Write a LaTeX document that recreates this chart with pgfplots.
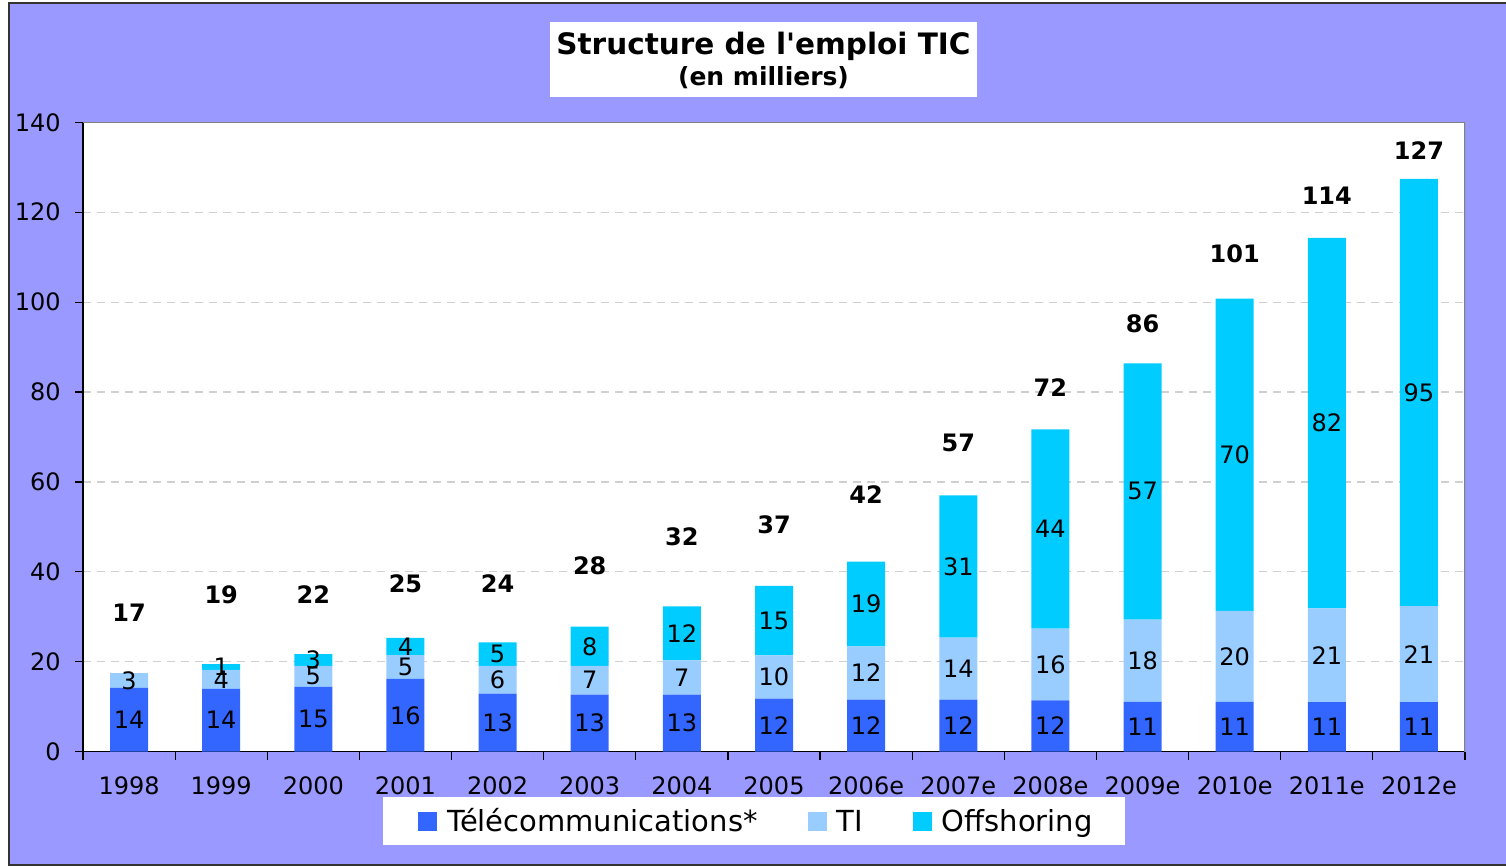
\documentclass[border=0pt]{standalone}
\usepackage{fontspec}
\setmainfont{DejaVu Sans}
\usepackage{pgfplots}
\usepackage{pgfplotstable}
\pgfplotsset{compat=1.18}
\definecolor{bgc}{HTML}{9999FF}
\definecolor{ctel}{HTML}{3366FF}
\definecolor{cti}{HTML}{99CCFF}
\definecolor{coff}{HTML}{00CCFF}
\definecolor{gridc}{HTML}{D0D0D0}
\definecolor{framec}{HTML}{808080}

\pgfplotstableread{
x  tel  ti   off  ltel lti loff tot ty
0  14.2 3.3  0.0  14   3   {}   17  30.8
1  14.0 4.2  1.3  14   4   1    19  34.9
2  14.4 4.7  2.6  15   5   3    22  34.9
3  16.2 5.3  3.8  16   5   4    25  37.3
4  12.9 6.2  5.2  13   6   5    24  37.3
5  12.7 6.4  8.7  13   7   8    28  41.3
6  12.7 7.6  12.0 13   7   12   32  47.8
7  11.8 9.6  15.5 12   10  15   37  50.4
8  11.6 11.8 18.9 12   12  19   42  57.1
9  11.6 13.8 31.6 12   14  31   57  68.7
10 11.4 16.0 44.3 12   16  44   72  81.0
11 11.1 18.3 57.0 11   18  57   86  95.2
12 11.1 20.2 69.5 11   20  70   101 110.7
13 11.0 20.9 82.4 11   21  82   114 123.6
14 11.0 21.4 95.0 11   21  95   127 133.7
}\data

\pgfplotsset{
  segment labels/.style={
    point meta=explicit symbolic,
    nodes near coords,
    every node near coord/.append style={anchor=center,
      font=\fontsize{12}{14}\selectfont, text=black, inner sep=0pt},
  },
}

\begin{document}
\begin{tikzpicture}
\useasboundingbox (0,0) rectangle (753pt,433pt);
\fill[white] (0,0) rectangle (753pt,433pt);
\filldraw[fill=bgc, draw=black!80, line width=1pt] (4.5pt,0.5pt) rectangle (756pt,431.5pt);
% title box
\fill[white] (275pt,384.5pt) rectangle (488.5pt,422pt);
\node[anchor=base, inner sep=0pt, font=\bfseries\fontsize{14.75}{17}\selectfont] at (381.75pt,405.5pt) {Structure de l\textquotesingle emploi TIC};
\node[anchor=base, inner sep=0pt, font=\bfseries\fontsize{12.5}{15}\selectfont] at (381.75pt,390pt) {(en milliers)};
% legend box
\fill[white] (191.5pt,10.5pt) rectangle (562.5pt,34.5pt);

\begin{axis}[
  at={(41.5pt,57.15pt)}, anchor=south west,
  scale only axis, width=691pt, height=314.7pt,
  xmin=-0.5, xmax=14.5, ymin=0, ymax=140,
  ybar stacked, bar width=19pt,
  axis background/.style={fill=white},
  axis x line*=bottom, axis y line*=left,
  axis line style={black, line width=0.75pt},
  ytick={0,20,...,140},
  xtick={0,...,14},
  xticklabels={1998,1999,2000,2001,2002,2003,2004,2005,2006e,2007e,2008e,2009e,2010e,2011e,2012e},
  x tick style={draw=none},
  extra x ticks={-0.5,0.5,...,14.5},
  extra x tick labels={},
  extra x tick style={x tick style={draw=black, line width=0.6pt}, major tick length=4pt},
  y tick style={black, line width=0.6pt},
  major tick length=4pt, tick align=outside,
  ymajorgrids,
  grid style={draw=gridc, line width=0.6pt, dash pattern=on 4pt off 3pt},
  tick label style={font=\fontsize{12}{14}\selectfont, /pgf/number format/assume math mode=true, inner sep=0pt},
  xticklabel style={anchor=north, yshift=-8.5pt},
  yticklabel style={anchor=east, xshift=-7pt},
  legend columns=3,
  legend style={at={(0.4866,-0.1149)}, anchor=center, draw=none, fill=none,
    font=\fontsize{14.5}{16}\selectfont,
    nodes={inner sep=0pt, text height=10.6pt, text depth=3pt},
    /tikz/every odd column/.append style={column sep=5pt},
    /tikz/every even column/.append style={column sep=25pt}},
  legend image code/.code={\fill[#1] (0pt,-3.3pt) rectangle (9.5pt,6.2pt);},
]
\addplot[fill=ctel, draw=none, segment labels] table[x=x, y=tel, meta=ltel] {\data};
\addlegendentry{Télécommunications*}
\addplot[fill=cti, draw=none, segment labels] table[x=x, y=ti, meta=lti] {\data};
\addlegendentry{TI}
\addplot[fill=coff, draw=none, segment labels] table[x=x, y=off, meta=loff] {\data};
\addlegendentry{Offshoring}
\draw[framec, line width=0.75pt] (rel axis cs:0,1) -- (rel axis cs:1,1) -- (rel axis cs:1,0);
\end{axis}

\begin{axis}[
  at={(41.5pt,57.15pt)}, anchor=south west,
  scale only axis, width=691pt, height=314.7pt,
  xmin=-0.5, xmax=14.5, ymin=0, ymax=140,
  hide axis, clip=false,
]
\addplot[draw=none, mark=none, point meta=explicit symbolic, nodes near coords,
  every node near coord/.append style={anchor=center, inner sep=0pt, text=black,
    font=\bfseries\fontsize{12}{14}\selectfont}]
  table[x=x, y=ty, meta=tot] {\data};
\end{axis}
\end{tikzpicture}
\end{document}
